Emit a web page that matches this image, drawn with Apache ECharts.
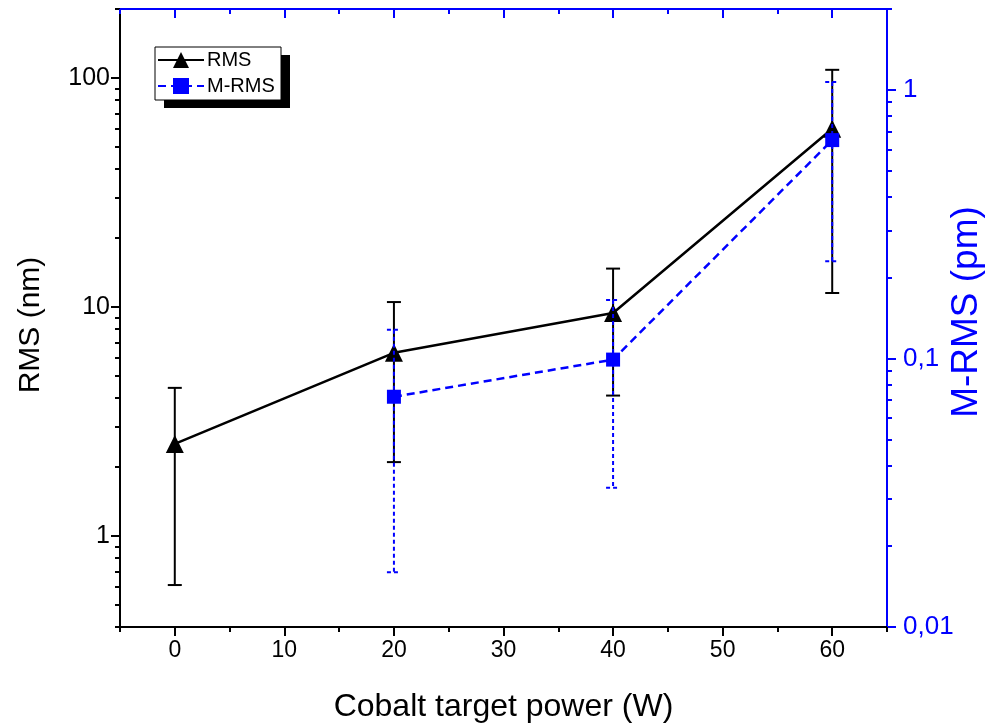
<!DOCTYPE html>
<html>
<head>
<meta charset="utf-8">
<script src="https://cdn.jsdelivr.net/npm/echarts@6/dist/echarts.min.js"></script>
<style>
  html, body { margin: 0; padding: 0; background: #ffffff; }
  #chart { width: 1001px; height: 727px; }
</style>
</head>
<body>
<div id="chart"></div>
<script>
// Roughness measured against cobalt target power
const powerW = [0, 20, 40, 60];
const rmsNm = [2.52, 6.3, 9.4, 60];
const rmsErr = [1.91, 4.2, 5.3, 48.5];

const mrmsPowerW = [20, 40, 60];
const mrmsPm = [0.072, 0.099, 0.65];
const mrmsErr = [0.056, 0.066, 0.42];

// Tick positions
const xMajorTicks = [0, 10, 20, 30, 40, 50, 60];
const xMinorTicks = [-5, 5, 15, 25, 35, 45, 55, 65];
const leftMajorTicks = [1, 10, 100];
const leftMinorTicks = [0.4, 0.5, 0.6, 0.7, 0.8, 0.9, 2, 3, 4, 5, 6, 7, 8, 9,
  20, 30, 40, 50, 60, 70, 80, 90, 200];
const rightMajorTicks = [0.01, 0.1, 1];
const rightMinorTicks = [0.02, 0.03, 0.04, 0.05, 0.06, 0.07, 0.08, 0.09,
  0.2, 0.3, 0.4, 0.5, 0.6, 0.7, 0.8, 0.9, 2];

const BLUE = '#0000ff';
const BLACK = '#000000';
const SANS = "'Liberation Sans', Arial, sans-serif";

const X_MIN = -5, X_MAX = 65;
const L_MIN = 0.4, L_MAX = 200;
const R_MIN = 0.01, R_MAX = 2;

function pairs3(xs, ys, es) {
  return xs.map((x, i) => [x, ys[i], es[i]]);
}
function pairs2(xs, ys) {
  return xs.map((x, i) => [x, ys[i]]);
}

// Tick-only axis used to draw a second set of (shorter) ticks
function tickOnlyAxis(base, ticks, len, inside, color) {
  return Object.assign({}, base, {
    axisLine: { show: false, onZero: false },
    axisLabel: { show: false },
    splitLine: { show: false },
    axisTick: {
      show: true, inside: inside, length: len, customValues: ticks,
      lineStyle: { color: color, width: 2 }
    }
  });
}

// Vertical error bar with caps
function errorBar(color, dash) {
  return function (params, api) {
    const x = api.value(0), y = api.value(1), e = api.value(2);
    const hi = api.coord([x, y + e]);
    const lo = api.coord([x, y - e]);
    const half = 7;
    const style = { stroke: color, lineWidth: 2, lineDash: dash, fill: null };
    return {
      type: 'group',
      children: [
        { type: 'line', shape: { x1: hi[0], y1: hi[1], x2: lo[0], y2: lo[1] }, style: style },
        { type: 'line', shape: { x1: hi[0] - half, y1: hi[1], x2: hi[0] + half, y2: hi[1] }, style: style },
        { type: 'line', shape: { x1: lo[0] - half, y1: lo[1], x2: lo[0] + half, y2: lo[1] }, style: style }
      ]
    };
  };
}

const xBase = { type: 'value', min: X_MIN, max: X_MAX, gridIndex: 0 };
const leftBase = { type: 'log', logBase: 10, min: L_MIN, max: L_MAX, position: 'left' };
const rightBase = { type: 'log', logBase: 10, min: R_MIN, max: R_MAX, position: 'right' };

// Legend frame with a solid drop shadow
const LEGEND_BOX = { x: 155, y: 47, w: 126, h: 53 };
const SHADOW_OFFSET = { x: 9, y: 8 };

const chart = echarts.init(document.getElementById('chart'), null, { renderer: 'canvas' });

chart.setOption({
  animation: false,
  backgroundColor: '#ffffff',
  grid: { left: 120, right: 114, top: 9, bottom: 100, outerBoundsMode: 'none' },
  graphic: [
    {
      type: 'rect', z: 100, silent: true,
      shape: { x: LEGEND_BOX.x + SHADOW_OFFSET.x, y: LEGEND_BOX.y + SHADOW_OFFSET.y, width: LEGEND_BOX.w, height: LEGEND_BOX.h },
      style: { fill: BLACK }
    },
    {
      type: 'rect', z: 101, silent: true,
      shape: { x: LEGEND_BOX.x, y: LEGEND_BOX.y, width: LEGEND_BOX.w, height: LEGEND_BOX.h },
      style: { fill: '#ffffff', stroke: BLACK, lineWidth: 1 }
    }
  ],
  legend: {
    z: 110,
    orient: 'vertical',
    left: 157, top: 50,
    data: ['RMS', 'M-RMS'],
    itemWidth: 46, itemHeight: 20, itemGap: 6,
    padding: 0,
    textStyle: { fontFamily: SANS, fontSize: 20, color: BLACK, padding: [0, 0, 0, -2] }
  },
  xAxis: [
    Object.assign({}, xBase, {
      position: 'bottom',
      name: 'Cobalt target power (W)',
      nameLocation: 'middle', nameGap: 64, nameMoveOverlap: false,
      nameTextStyle: { fontFamily: SANS, fontSize: 32, color: BLACK },
      axisLine: { show: true, onZero: false, lineStyle: { color: BLACK, width: 2 } },
      axisTick: { show: true, inside: false, length: 9, customValues: xMajorTicks, lineStyle: { color: BLACK, width: 2 } },
      axisLabel: { show: true, customValues: xMajorTicks, margin: 12, fontFamily: SANS, fontSize: 23, color: BLACK },
      splitLine: { show: false }
    }),
    tickOnlyAxis(Object.assign({}, xBase, { position: 'bottom' }), xMinorTicks, 5, false, BLACK),
    Object.assign({}, xBase, {
      position: 'top',
      axisLine: { show: true, onZero: false, lineStyle: { color: BLUE, width: 2 } },
      axisTick: { show: true, inside: true, length: 9, customValues: xMajorTicks, lineStyle: { color: BLUE, width: 2 } },
      axisLabel: { show: false },
      splitLine: { show: false }
    }),
    tickOnlyAxis(Object.assign({}, xBase, { position: 'top' }), xMinorTicks, 5, true, BLUE)
  ],
  yAxis: [
    Object.assign({}, leftBase, {
      name: 'RMS (nm)',
      nameLocation: 'middle', nameGap: 74, nameRotate: 90, nameMoveOverlap: false,
      nameTextStyle: { fontFamily: SANS, fontSize: 30, color: BLACK, padding: [0, 14, 0, 0] },
      axisLine: { show: true, onZero: false, lineStyle: { color: BLACK, width: 2 } },
      axisTick: { show: true, inside: false, length: 9, customValues: leftMajorTicks, lineStyle: { color: BLACK, width: 2 } },
      axisLabel: { show: true, customValues: leftMajorTicks, margin: 10, fontFamily: SANS, fontSize: 25, color: BLACK },
      splitLine: { show: false }
    }),
    tickOnlyAxis(leftBase, leftMinorTicks, 5, false, BLACK),
    Object.assign({}, rightBase, {
      name: 'M-RMS (pm)',
      nameLocation: 'middle', nameGap: 61, nameRotate: 90, nameMoveOverlap: false,
      nameTextStyle: { fontFamily: SANS, fontSize: 37, color: BLUE, padding: [0, 0, 0, 12] },
      axisLine: { show: true, onZero: false, lineStyle: { color: BLUE, width: 2 } },
      axisTick: { show: true, inside: false, length: 9, customValues: rightMajorTicks, lineStyle: { color: BLUE, width: 2 } },
      axisLabel: {
        show: true, customValues: rightMajorTicks, margin: 16,
        fontFamily: SANS, fontSize: 26, color: BLUE,
        formatter: v => String(v).replace('.', ',')
      },
      splitLine: { show: false }
    }),
    tickOnlyAxis(rightBase, rightMinorTicks, 5, false, BLUE)
  ],
  series: [
    {
      name: 'RMS error',
      type: 'custom',
      xAxisIndex: 0, yAxisIndex: 0,
      z: 2,
      renderItem: errorBar(BLACK, null),
      encode: { x: 0, y: 1 },
      data: pairs3(powerW, rmsNm, rmsErr),
      silent: true
    },
    {
      name: 'RMS',
      type: 'line',
      xAxisIndex: 0, yAxisIndex: 0,
      z: 3,
      data: pairs2(powerW, rmsNm),
      symbol: 'triangle', symbolSize: 18,
      itemStyle: { color: BLACK },
      lineStyle: { color: BLACK, width: 2.5 }
    },
    {
      name: 'M-RMS error',
      type: 'custom',
      xAxisIndex: 0, yAxisIndex: 2,
      z: 4,
      renderItem: errorBar(BLUE, [4, 3]),
      encode: { x: 0, y: 1 },
      data: pairs3(mrmsPowerW, mrmsPm, mrmsErr),
      silent: true
    },
    {
      name: 'M-RMS',
      type: 'line',
      xAxisIndex: 0, yAxisIndex: 2,
      z: 5,
      data: pairs2(mrmsPowerW, mrmsPm),
      symbol: 'rect', symbolSize: 14,
      itemStyle: { color: BLUE },
      lineStyle: { color: BLUE, width: 2.5, type: [8, 5] }
    }
  ]
});
</script>
</body>
</html>
